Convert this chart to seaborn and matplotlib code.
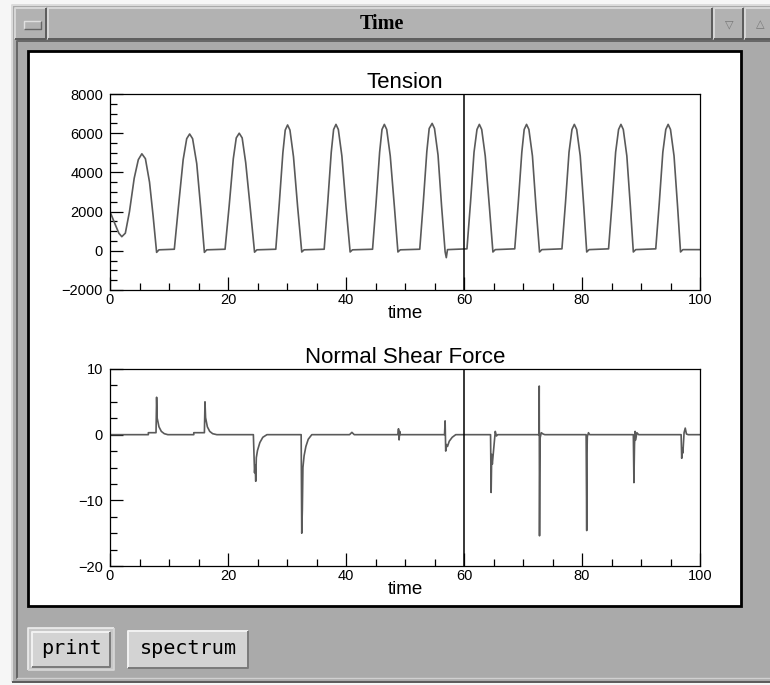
import matplotlib
matplotlib.use("Agg")
import matplotlib.pyplot as plt
import seaborn as sns
from matplotlib.patches import Rectangle
from matplotlib.ticker import MultipleLocator

# ---- data ----
tension_t = [
    0, 0.8, 1.5, 2.0, 2.6, 3.3, 4.1, 4.8, 5.4, 6.0, 6.7, 7.3, 7.9, 8.3,
    10.9, 11.6, 12.4, 13.0, 13.5, 14.0, 14.7, 15.4, 16.0, 16.4,
    19.5, 20.2, 20.9, 21.4, 21.9, 22.4, 23.0, 23.8, 24.5, 24.9,
    28.1, 28.7, 29.3, 29.7, 30.1, 30.5, 31.1, 31.8, 32.5, 32.9,
    36.3, 36.9, 37.5, 37.9, 38.3, 38.7, 39.3, 40.0, 40.7, 41.1,
    44.5, 45.1, 45.7, 46.1, 46.5, 46.9, 47.5, 48.2, 48.8, 49.2,
    52.5, 53.1, 53.7, 54.1, 54.6, 55.0, 55.6, 56.2, 56.8, 57.0, 57.2,
    60.5, 61.1, 61.7, 62.2, 62.6, 63.0, 63.6, 64.3, 64.9, 65.3,
    68.6, 69.2, 69.8, 70.2, 70.6, 71.0, 71.6, 72.2, 72.8, 73.2,
    76.6, 77.2, 77.8, 78.3, 78.7, 79.1, 79.7, 80.3, 80.8, 81.2,
    84.5, 85.1, 85.7, 86.2, 86.6, 87.0, 87.6, 88.2, 88.7, 89.1,
    92.5, 93.1, 93.7, 94.2, 94.6, 95.0, 95.6, 96.2, 96.7, 97.1,
    100,
]
tension_v = [
    2000, 1400, 900, 720, 900, 2000, 3700, 4650, 4950, 4700, 3500, 1800, -80, 50,
    80, 2250, 4650, 5720, 5960, 5720, 4450, 2100, -80, 50,
    80, 2300, 4700, 5760, 6000, 5760, 4500, 2100, -70, 50,
    80, 2450, 5000, 6160, 6420, 6160, 4800, 2250, -60, 50,
    80, 2450, 5030, 6190, 6450, 6190, 4840, 2260, -60, 50,
    80, 2450, 5030, 6190, 6450, 6190, 4840, 2260, -60, 50,
    80, 2470, 5070, 6240, 6500, 6240, 4880, 2280, -50, -350, 60,
    100, 2450, 5030, 6190, 6450, 6190, 4840, 2260, -60, 60,
    100, 2450, 5030, 6190, 6450, 6190, 4840, 2260, -60, 60,
    100, 2450, 5030, 6190, 6450, 6190, 4840, 2260, -60, 60,
    100, 2450, 5030, 6190, 6450, 6190, 4840, 2260, -60, 60,
    100, 2450, 5030, 6190, 6450, 6190, 4840, 2260, -60, 60,
    60,
]

shear_t = [
    0, 6.5, 6.5, 7.8, 7.9, 8.0, 8.3, 8.7, 9.2, 9.8,
    14.2, 14.2, 16.0, 16.1, 16.2, 16.5, 16.9, 17.4, 18.1,
    24.3, 24.5, 24.6, 24.7, 24.8, 25.0, 25.4, 25.9, 26.6,
    32.4, 32.5, 32.6, 32.7, 32.9, 33.2, 33.6, 34.2,
    40.6, 41.0, 41.4,
    48.8, 48.9, 49.0, 49.1, 49.2,
    56.7, 56.8, 56.9, 57.0, 57.2, 57.5, 58.0, 58.6,
    64.5, 64.6, 64.7, 64.8, 65.0, 65.3, 65.5, 65.7,
    72.7, 72.75, 72.8, 72.85, 72.9, 73.1, 73.4, 73.7,
    80.7, 80.8, 80.85, 80.9, 81.1, 81.3, 81.6,
    88.7, 88.8, 88.9, 89.0, 89.1, 89.3, 89.6,
    96.8, 96.9, 97.0, 97.1, 97.3, 97.5, 97.7, 98.0,
    100,
]
shear_v = [
    0, 0, 0.3, 0.3, 5.7, 2.5, 1.2, 0.5, 0.15, 0,
    0, 0.3, 0.3, 5.0, 2.6, 1.2, 0.5, 0.15, 0,
    0, -5.8, -4.6, -7.1, -3.5, -2.4, -1.2, -0.4, 0,
    0, -15.0, -11.5, -5.0, -3.2, -1.8, -0.7, 0,
    0, 0.35, 0,
    0, 0.9, -0.8, 0.5, 0,
    0, 2.1, -2.5, -1.5, -1.8, -1.0, -0.4, 0,
    0, -8.8, -3.0, -4.5, -2.5, 0.5, -0.2, 0,
    0, 7.4, -15.4, -6.4, -0.5, 0.3, 0.1, 0,
    0, -14.6, -3.0, -0.3, 0.3, 0, 0,
    0, -7.3, -1.5, 0.5, -0.8, 0.3, 0,
    0, -3.6, -2.0, -2.8, 0.3, 1.0, 0.1, 0,
    0,
]

cursor_time = 60
button_labels = ["print", "spectrum"]

# ---- style ----
sns.set_style("ticks")
plt.rcParams['font.family'] = ['Liberation Sans', 'DejaVu Sans']

W, H = 770, 685
fig = plt.figure(figsize=(W / 100, H / 100), dpi=100)
fig.patch.set_facecolor('#f6f6f6')

# window decoration drawn in pixel coords
deco = fig.add_axes([0, 0, 1, 1])
deco.set_xlim(0, W)
deco.set_ylim(H, 0)
deco.axis('off')


def box(x0, y0, x1, y1, face, light, dark, lw=1.4):
    deco.add_patch(Rectangle((x0, y0), x1 - x0, y1 - y0, facecolor=face, edgecolor='none'))
    deco.plot([x0, x0, x1], [y1, y0, y0], color=light, lw=lw, solid_capstyle='butt')
    deco.plot([x0, x1, x1], [y1, y1, y0], color=dark, lw=lw, solid_capstyle='butt')


box(12, 5, 775, 682, '#aaaaaa', '#dcdcdc', '#5a5a5a')
deco.plot([17, 17, 775], [678, 41, 41], color='#666666', lw=1.4)
deco.plot([17, 775], [678, 678], color='#d0d0d0', lw=1.0)

# title bar
box(15, 8, 46, 39, '#b2b2b2', '#d8d8d8', '#5c5c5c')
box(24, 21, 41, 29, '#b2b2b2', '#e0e0e0', '#666666', lw=1.0)
box(48, 8, 712, 39, '#b2b2b2', '#d8d8d8', '#5c5c5c')
box(714, 8, 743, 39, '#b2b2b2', '#d8d8d8', '#5c5c5c')
box(745, 8, 775, 39, '#b2b2b2', '#d8d8d8', '#5c5c5c')
deco.text(382, 24, "Time", family='Liberation Serif', weight='bold',
          fontsize=14.5, ha='center', va='center', color='black')
deco.text(729, 24, "\u25bd", family='DejaVu Sans', fontsize=8,
          ha='center', va='center', color='#777777')
deco.text(760, 24, "\u25b3", family='DejaVu Sans', fontsize=8,
          ha='center', va='center', color='#777777')

# white plot panel
deco.add_patch(Rectangle((28, 51), 713, 555, facecolor='white',
                         edgecolor='black', lw=2))

# buttons
box(28, 628, 114, 670, '#c8c8c8', '#eeeeee', '#d8d8d8', lw=1.2)
box(32, 632, 110, 667, '#d3d3d3', '#f2f2f2', '#7a7a7a')
box(128, 631, 248, 668, '#d3d3d3', '#f2f2f2', '#7a7a7a')
deco.text(71, 648, button_labels[0], family='DejaVu Sans Mono',
          fontsize=14.5, ha='center', va='center', color='black')
deco.text(188, 648, button_labels[1], family='DejaVu Sans Mono',
          fontsize=14.5, ha='center', va='center', color='black')


def style_axes(ax, xlim, ylim, ymaj, ymin, title):
    ax.set_facecolor('white')
    ax.axvline(cursor_time, color='black', lw=1.1, zorder=5)
    ax.set_xlim(*xlim)
    ax.set_ylim(*ylim)
    ax.xaxis.set_major_locator(MultipleLocator(20))
    ax.xaxis.set_minor_locator(MultipleLocator(5))
    ax.yaxis.set_major_locator(MultipleLocator(ymaj))
    ax.yaxis.set_minor_locator(MultipleLocator(ymin))
    ax.tick_params(which='both', direction='in', top=False, right=False,
                   color='black', labelcolor='black', labelsize=10.5, width=0.9)
    ax.tick_params(which='major', length=9.5)
    ax.tick_params(which='minor', length=5)
    ax.tick_params(axis='x', pad=2)
    ax.tick_params(axis='y', pad=5)
    for s in ax.spines.values():
        s.set_visible(True)
        s.set_color('black')
        s.set_linewidth(0.9)
    ax.set_title(title, fontsize=16, pad=4, color='black')
    ax.set_xlabel("time", fontsize=13.5, labelpad=-1, color='black')
    ax.set_ylabel("")


# Tension
ax1 = fig.add_axes([110 / W, 1 - 290 / H, 590 / W, 196 / H])
sns.lineplot(x=tension_t, y=tension_v, ax=ax1, color='#5a5a5a',
             linewidth=1.2, sort=False, estimator=None)
style_axes(ax1, (0, 100), (-2000, 8000), 2000, 500, "Tension")

# Normal Shear Force
ax2 = fig.add_axes([110 / W, 1 - 566 / H, 590 / W, 197 / H])
sns.lineplot(x=shear_t, y=shear_v, ax=ax2, color='#5a5a5a',
             linewidth=1.2, sort=False, estimator=None)
style_axes(ax2, (0, 100), (-20, 10), 10, 2.5, "Normal Shear Force")

fig.savefig("out.png", dpi=100, facecolor=fig.get_facecolor())
